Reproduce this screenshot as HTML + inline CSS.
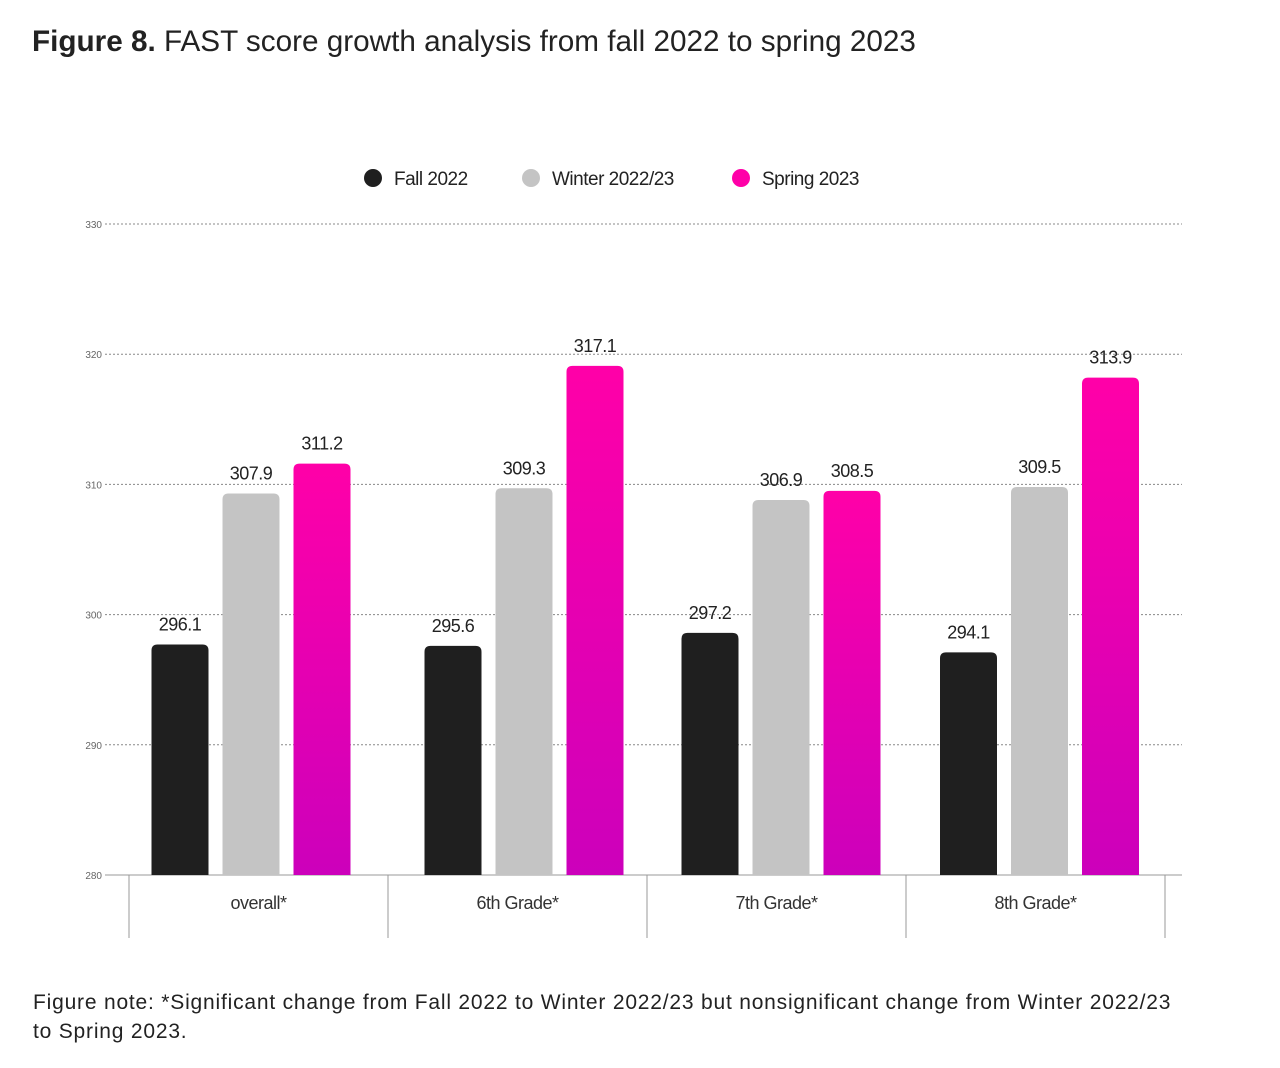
<!DOCTYPE html>
<html><head><meta charset="utf-8">
<style>
body{margin:0;background:#fff;width:1280px;height:1068px;overflow:hidden;font-family:"Liberation Sans",sans-serif;}
#title{position:absolute;left:32px;top:25px;font-size:29.7px;color:#222;}
#note{position:absolute;left:33px;top:988px;font-size:21px;line-height:29px;color:#222;width:1240px;letter-spacing:0.8px;white-space:nowrap;}
svg{position:absolute;left:0;top:0;}
</style></head><body>
<div id="title"><b>Figure 8.</b> FAST score growth analysis from fall 2022 to spring 2023</div>
<svg id="chart" width="1280" height="1068"></svg>
<div id="note">Figure note: *Significant change from Fall 2022 to Winter 2022/23 but nonsignificant change from Winter 2022/23<br>to Spring 2023.</div>
<script>
const categories=["overall*","6th Grade*","7th Grade*","8th Grade*"];
const seriesNames=["Fall 2022","Winter 2022/23","Spring 2023"];
const fallValues=[297.7,297.6,298.6,297.1];
const winterValues=[309.3,309.7,308.8,309.8];
const springValues=[311.6,319.1,309.5,318.2];
const fallLabels=["296.1","295.6","297.2","294.1"];
const winterLabels=["307.9","309.3","306.9","309.5"];
const springLabels=["311.2","317.1","308.5","313.9"];
const yTicks=[280,290,300,310,320,330];

const NS="http://www.w3.org/2000/svg";
const svg=document.getElementById('chart');
function el(t,a,p){const e=document.createElementNS(NS,t);for(const k in a)e.setAttribute(k,a[k]);(p||svg).appendChild(e);return e;}
const y0=875,y1=224,ymin=280,ymax=330;
const y=v=>y0-(v-ymin)/(ymax-ymin)*(y0-y1);
const left=129,bandW=259;
const groupShift=[-7.5,6.5,4.5,4];
const xc=i=>left+bandW*i+bandW/2+groupShift[i];
const defs=el('defs',{});
const g=el('linearGradient',{id:'pink',x1:0,y1:0,x2:0,y2:1},defs);
el('stop',{offset:'0','stop-color':'#ff00a8'},g);
el('stop',{offset:'1','stop-color':'#cc00bb'},g);
const colors=['#1f1f1f','#c4c4c4','url(#pink)'];
const legendColors=['#1f1f1f','#c4c4c4','#ff00a8'];

yTicks.forEach(t=>{
  const l=el('line',{x1:105,x2:1182,y1:y(t),y2:y(t),stroke:t===ymin?'#999':'#888','stroke-width':1,'stroke-dasharray':t===ymin?'':'2,2'});
  
  
  const tx=el('text',{x:102,y:y(t)+4,'text-anchor':'end','font-size':10,fill:'#666'});
  tx.textContent=t;
  
  
});
for(let i=0;i<=categories.length;i++){
  const l=el('line',{x1:left+bandW*i,x2:left+bandW*i,y1:875,y2:938,stroke:'#999','stroke-width':1});
  
  
}
const series=[fallValues,winterValues,springValues];
const labels=[fallLabels,winterLabels,springLabels];
const bw=57,r=6;
categories.forEach((c,i)=>{
  const t=el('text',{x:left+bandW*i+bandW/2,y:909,'text-anchor':'middle','font-size':18,fill:'#333','letter-spacing':'-0.5'});
  t.textContent=c;
  
  
  series.forEach((s,j)=>{
    const cx=xc(i)+(j-1)*71, top=y(s[i]), x=cx-bw/2;
    const p=el('path',{d:`M${x},${y0}V${top+r}Q${x},${top} ${x+r},${top}H${x+bw-r}Q${x+bw},${top} ${x+bw},${top+r}V${y0}Z`,fill:colors[j]});
    
    
    const lt=el('text',{x:cx,y:top-14,'text-anchor':'middle','font-size':18,fill:'#222','letter-spacing':'-0.5'});
    lt.textContent=labels[j][i];
    
    
  });
});
const lx=[373,531,741];
seriesNames.forEach((n,j)=>{
  const c=el('circle',{cx:lx[j],cy:178,r:9,fill:legendColors[j]});
  
  
  const t=el('text',{x:lx[j]+21,y:185,'font-size':19,fill:'#222','letter-spacing':'-0.5'});
  t.textContent=n;
  
  
});
</script>
</body></html>
